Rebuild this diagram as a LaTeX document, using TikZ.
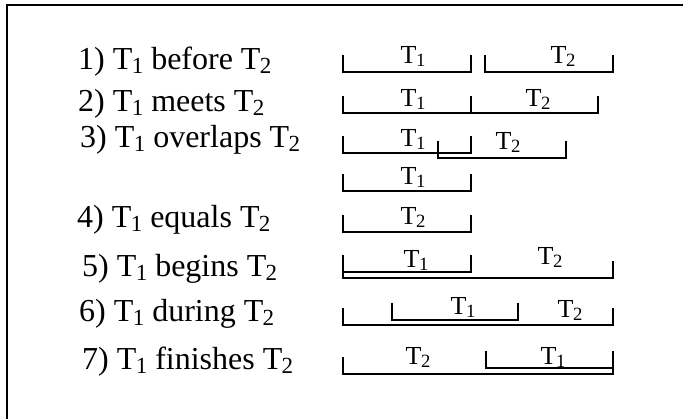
\documentclass[tikz,border=0pt]{standalone}
\usepackage{fontspec}
\setmainfont{Liberation Serif}
\newcommand\Tsb[1]{T\kern-0.02em\raisebox{-0.22ex}{\scalebox{0.72}{#1}}}
\newcommand\ibar[3]{\draw[bar] (#1,#3-17) -- (#1,#3) -- (#2,#3) -- (#2,#3-17);}
\begin{document}
\begin{tikzpicture}[x=1pt,y=-1pt,
  bar/.style={line width=1.6pt,line cap=butt,line join=miter},
  frame/.style={line width=2pt},
  rowtxt/.style={anchor=base west,inner sep=0pt,font=\fontsize{32}{36}\selectfont},
  lab/.style={anchor=base,inner sep=0pt,font=\fontsize{26}{30}\selectfont}]
\useasboundingbox (0,0) rectangle (683,419);
\fill[white] (0,0) rectangle (683,419);
% frame
\draw[frame] (7,419) -- (7,5) -- (683,5);
% row texts
\node[rowtxt] (t1) at (78,70)  {1) \Tsb{1} before \Tsb{2}};
\node[rowtxt] (t2) at (78,112) {2) \Tsb{1} meets \Tsb{2}};
\node[rowtxt] (t3) at (80,148) {3) \Tsb{1} overlaps \Tsb{2}};
\node[rowtxt] (t4) at (77,228) {4) \Tsb{1} equals \Tsb{2}};
\node[rowtxt] (t5) at (82,277) {5) \Tsb{1} begins \Tsb{2}};
\node[rowtxt] (t6) at (79,322) {6) \Tsb{1} during \Tsb{2}};
\node[rowtxt] (t7) at (82,370) {7) \Tsb{1} finishes \Tsb{2}};
% row 1
\ibar{343}{471}{72}\ibar{485}{613}{72}
\node[lab] (l1a) at (413,64) {\Tsb{1}};
\node[lab] (l1b) at (563,64) {\Tsb{2}};
% row 2
\ibar{343}{471}{113}\ibar{471}{598}{113}
\node[lab] (l2a) at (413,107) {\Tsb{1}};
\node[lab] (l2b) at (538,107) {\Tsb{2}};
% row 3
\ibar{343}{471}{153}\ibar{438}{566}{158}
\node[lab] (l3a) at (413,147) {\Tsb{1}};
\node[lab] (l3b) at (508,150) {\Tsb{2}};
% row 4
\ibar{343}{471}{191}\ibar{343}{471}{232}
\node[lab] (l4a) at (413,185) {\Tsb{1}};
\node[lab] (l4b) at (413,225) {\Tsb{2}};
% row 5
\ibar{343}{471}{272}\ibar{343}{613}{278}
\node[lab] (l5a) at (416,268) {\Tsb{1}};
\node[lab] (l5b) at (550,265) {\Tsb{2}};
% row 6
\ibar{392}{518}{320}\ibar{343}{613}{325}
\node[lab] (l6a) at (463,315) {\Tsb{1}};
\node[lab] (l6b) at (570,318) {\Tsb{2}};
% row 7
\ibar{486}{613}{368}\ibar{343}{613}{374}
\node[lab] (l7a) at (418,365) {\Tsb{2}};
\node[lab] (l7b) at (553,365) {\Tsb{1}};
\end{tikzpicture}
\end{document}
